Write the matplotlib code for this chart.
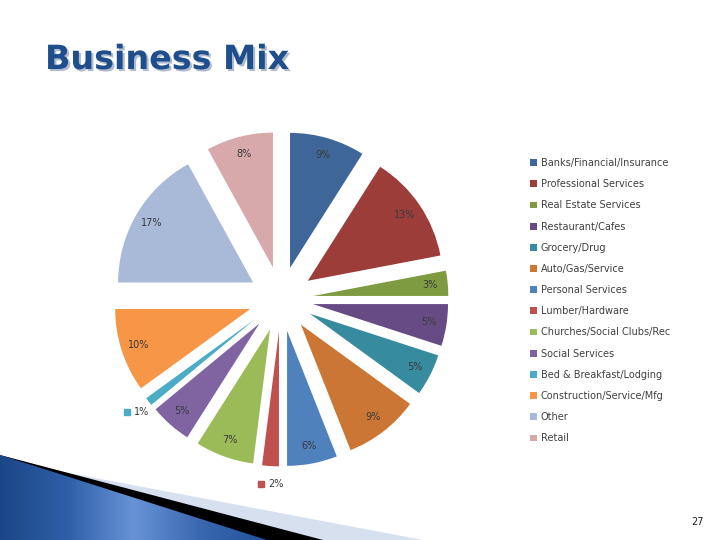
import numpy as np
import matplotlib
matplotlib.use('Agg')
import matplotlib.pyplot as plt
import matplotlib.patheffects as pe
from matplotlib.patches import Polygon
from matplotlib.colors import LinearSegmentedColormap

# data
categories = ['Banks/Financial/Insurance', 'Professional Services', 'Real Estate Services',
              'Restaurant/Cafes', 'Grocery/Drug', 'Auto/Gas/Service', 'Personal Services',
              'Lumber/Hardware', 'Churches/Social Clubs/Rec', 'Social Services',
              'Bed & Breakfast/Lodging', 'Construction/Service/Mfg', 'Other', 'Retail']
shares = [9, 13, 3, 5, 5, 9, 6, 2, 7, 5, 1, 10, 17, 8]
colors = ['#3f6699', '#9c3d3a', '#7e9b41', '#664b85', '#378b9f', '#cb7634', '#4f81bd',
          '#c0504d', '#9bbb59', '#8064a2', '#4bacc6', '#f79646', '#a9bad9', '#d8a9aa']

fig = plt.figure(figsize=(7.2, 5.4), dpi=100)

# background axes in pixel coords for the slide decoration
bg = fig.add_axes([0, 0, 1, 1])
bg.add_patch(Polygon([(0, 460), (423, 540), (0, 540)], closed=True, fc='#d6e0ee', lw=0))
bg.add_patch(Polygon([(0, 455), (323, 540), (0, 540)], closed=True, fc='black', lw=0))
blue = Polygon([(0, 455), (267, 540), (0, 540)], closed=True, fc='none', lw=0)
bg.add_patch(blue)
grad = np.tile(np.linspace(0, 1, 256), (2, 1))
cmap = LinearSegmentedColormap.from_list('swoosh', ['#1b4686', '#2f5fa8', '#6792d6', '#3a68b0', '#22509a'])
im = bg.imshow(grad, extent=[0, 267, 540, 455], cmap=cmap, aspect='auto', zorder=1)
im.set_clip_path(blue)
bg.set_xlim(0, 720)
bg.set_ylim(540, 0)
bg.axis('off')

# pie axes, centre and radius in pixels
cx, cy, r = 281, 299, 135
lim = 1.3
ax = fig.add_axes([(cx - lim * r) / 720, (540 - cy - lim * r) / 540,
                   2 * lim * r / 720, 2 * lim * r / 540])
wedges, texts, autotexts = ax.pie(shares, colors=colors, explode=[0.24] * len(shares),
                                  startangle=90, counterclock=False, autopct='%1.0f%%',
                                  pctdistance=0.87,
                                  textprops=dict(fontsize=7, color='#3a3a3a'),
                                  wedgeprops=dict(linewidth=0))
ax.set_xlim(-lim, lim)
ax.set_ylim(-lim, lim)

#* tiny slices get their label outside, with a legend key
for w, t, s, c in zip(wedges, autotexts, shares, colors):
    if s <= 2:
        t.set_visible(False)
        ang = np.deg2rad((w.theta1 + w.theta2) / 2)
        px, py = 1.37 * np.cos(ang), 1.37 * np.sin(ang)
        ax.plot(px - 0.06, py, marker='s', ms=4, color=c, ls='none', clip_on=False)
        ax.text(px - 0.01, py, '%d%%' % s, fontsize=7, color='#3a3a3a', ha='left',
                va='center', clip_on=False)

ax.legend(wedges, categories, loc='upper left',
          bbox_to_anchor=(530 / 720, 1 - 158 / 540), bbox_transform=fig.transFigure,
          frameon=False, fontsize=7, labelcolor='#404040', handlelength=0.7,
          handleheight=0.7, handletextpad=0.4, labelspacing=1.15, borderpad=0,
          borderaxespad=0)

fig.text(45 / 720, 1 - 69 / 540, 'Business Mix', fontsize=24, fontweight='bold',
         color='#1f4e8c', va='baseline',
         path_effects=[pe.withSimplePatchShadow(offset=(1.5, -1.5), shadow_rgbFace='#a8b4c8', alpha=0.9)])
fig.text(697 / 720, 1 - 522 / 540, '27', fontsize=7, ha='center', va='center', color='#222222')

fig.savefig('out.png', dpi=100)
